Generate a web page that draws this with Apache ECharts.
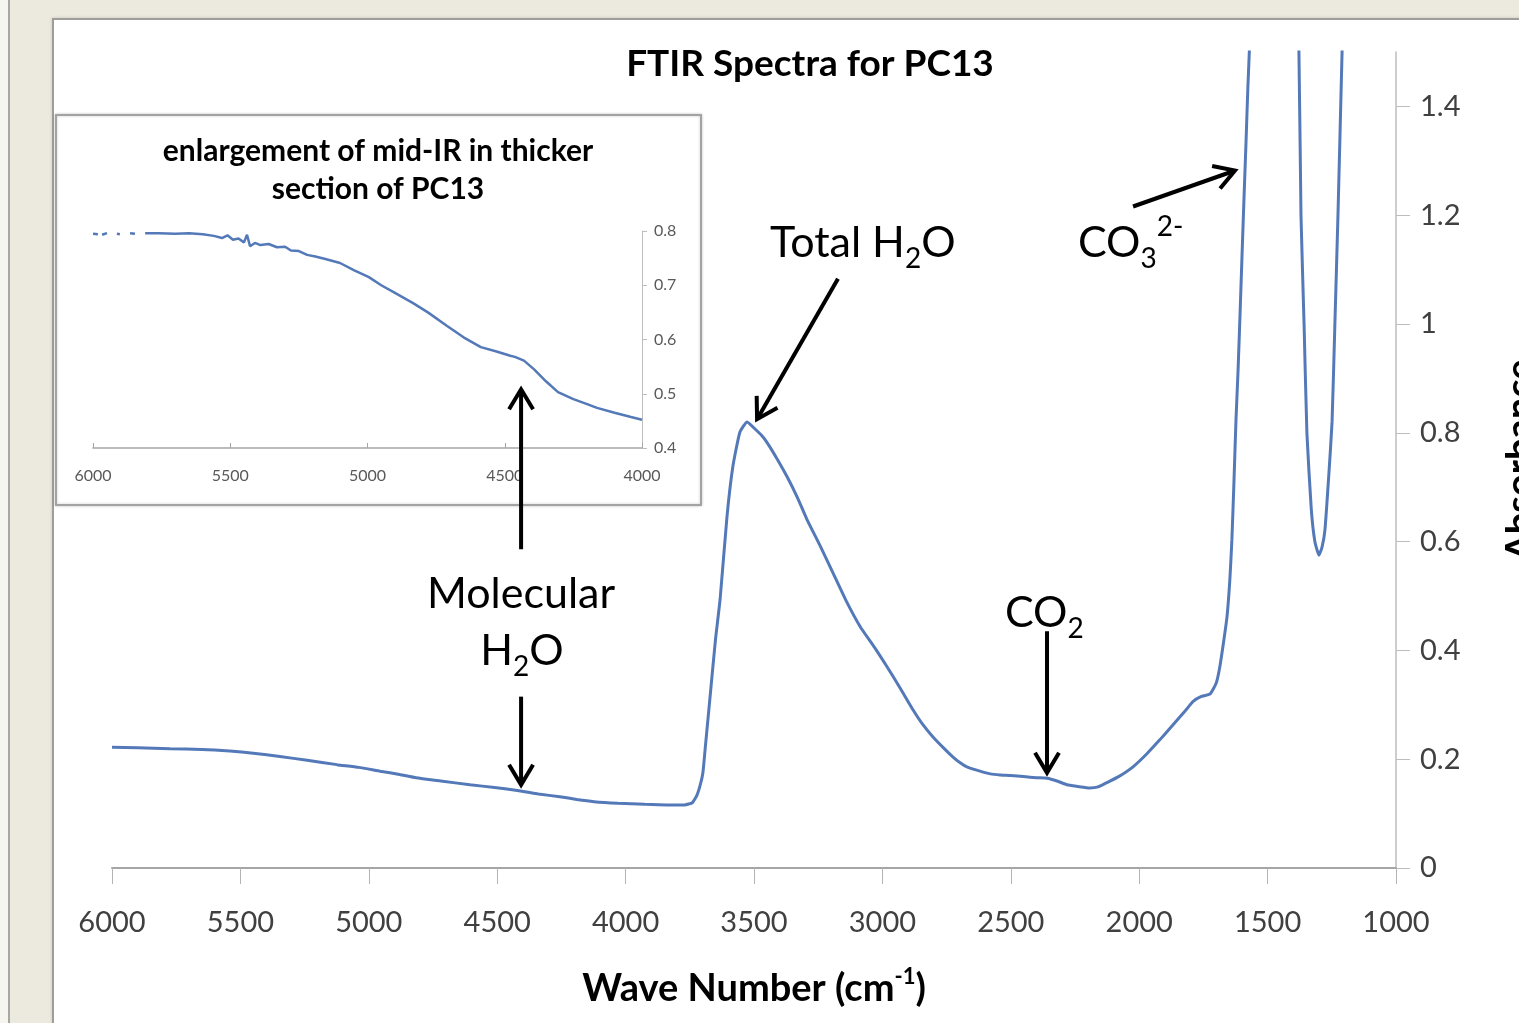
<!DOCTYPE html>
<html>
<head>
<meta charset="utf-8">
<script src="https://cdn.jsdelivr.net/npm/echarts@6/dist/echarts.min.js"></script>
<style>
  html, body { margin: 0; padding: 0; width: 1519px; height: 1023px; overflow: hidden; background: #ece9df; }
  #strip { position: absolute; left: 0; top: 0; width: 8px; height: 1023px; background: #f6f5f0; border-right: 2px solid #a8a7a1; }
  #frame { position: absolute; left: 52px; top: 18px; width: 1480px; height: 1020px; background: #fff; border: 2px solid #9e9d98; box-shadow: 0 0 3px #c9c7bf; }
  #chart { position: absolute; left: 0; top: 0; width: 1519px; height: 1023px; }
</style>
</head>
<body>
<div id="strip"></div>
<div id="frame"></div>
<div id="chart"></div>
<script>
// main spectrum, wave number (cm-1) and absorbance
var mainWave = [6000, 5900, 5774, 5650, 5541, 5450, 5346, 5240, 5124, 5040, 4956, 4880, 4816, 4720, 4606, 4510, 4415, 4340, 4256, 4190,
    4123, 4030, 3925, 3840, 3770, 3740, 3722, 3708, 3699, 3690, 3680, 3671, 3650, 3632, 3605, 3582, 3555, 3527, 3496, 3470,
    3449, 3410, 3372, 3330, 3294, 3240, 3193, 3140, 3087, 3030, 2982, 2930, 2881, 2840, 2803, 2760, 2725, 2690, 2671, 2620,
    2580, 2542, 2500, 2450, 2400, 2359, 2320, 2281, 2240, 2192, 2160, 2126, 2080, 2024, 1970, 1919, 1880, 1841, 1810, 1791,
    1760, 1724, 1700, 1686, 1670, 1658, 1647, 1639, 1631, 1623, 1615, 1608, 1600, 1592, 1584, 1577, 1561, 1540, 1500, 1460,
    1420, 1395, 1378, 1370, 1358, 1347, 1330, 1316, 1300, 1288, 1277, 1262, 1249, 1238, 1226, 1210, 1200];
var mainAbs = [0.222, 0.221, 0.219, 0.218, 0.215, 0.211, 0.205, 0.198, 0.190, 0.185, 0.178, 0.172, 0.166, 0.160, 0.153, 0.148, 0.142, 0.136, 0.131, 0.126,
    0.122, 0.119, 0.117, 0.116, 0.116, 0.120, 0.134, 0.155, 0.175, 0.220, 0.270, 0.315, 0.420, 0.494, 0.647, 0.739, 0.801, 0.820, 0.807, 0.795,
    0.782, 0.752, 0.720, 0.680, 0.641, 0.590, 0.543, 0.490, 0.444, 0.405, 0.370, 0.330, 0.291, 0.262, 0.241, 0.220, 0.204, 0.191, 0.186, 0.178,
    0.173, 0.171, 0.170, 0.168, 0.166, 0.165, 0.160, 0.153, 0.150, 0.147, 0.149, 0.157, 0.168, 0.186, 0.210, 0.236, 0.257, 0.278, 0.295, 0.306,
    0.315, 0.320, 0.340, 0.370, 0.420, 0.462, 0.530, 0.604, 0.710, 0.825, 0.915, 1.009, 1.120, 1.230, 1.335, 1.433, 1.62, 1.95, 2.45, 2.6,
    2.3, 1.75, 1.50, 1.20, 1.00, 0.80, 0.66, 0.60, 0.575, 0.59, 0.62, 0.72, 0.82, 1.00, 1.20, 1.50, 1.70];

// enlargement of mid-IR, thicker section (null = gap in the noisy start)
var insetWave = [6000, 5982, 5975, 5967, 5949, 5930, 5913, 5902, 5880, 5865, 5847, 5830, 5810, 5760, 5700, 5650, 5600, 5560, 5530, 5510,
    5490, 5470, 5450, 5439, 5428, 5410, 5390, 5360, 5330, 5300, 5279, 5250, 5220, 5190, 5150, 5100, 5050, 4995, 4950, 4900,
    4834, 4780, 4710, 4650, 4587, 4530, 4480, 4463, 4430, 4393, 4350, 4306, 4250, 4200, 4164, 4100, 4040, 4000];
var insetAbs = [0.795, 0.794, null, 0.793, 0.796, null, 0.795, 0.794, null, 0.796, 0.795, null, 0.796, 0.796, 0.795, 0.796, 0.794, 0.791, 0.787, 0.792,
    0.784, 0.786, 0.779, 0.793, 0.772, 0.778, 0.774, 0.776, 0.770, 0.771, 0.764, 0.763, 0.756, 0.753, 0.748, 0.741, 0.728, 0.715, 0.700, 0.686,
    0.667, 0.650, 0.625, 0.604, 0.586, 0.578, 0.570, 0.568, 0.561, 0.545, 0.523, 0.503, 0.490, 0.481, 0.474, 0.465, 0.457, 0.452];

var font = 'Lato';
var lineBlue = '#5479b8';

function pairs(xs, ys) {
    var out = [];
    for (var i = 0; i < xs.length; i++) out.push([xs[i], ys[i] == null ? '-' : ys[i]]);
    return out;
}

function plain(v) { return String(v); }

var chart = echarts.init(document.getElementById('chart'), null, {renderer: 'canvas'});

var option = {
    animation: false,
    backgroundColor: 'transparent',
    grid: [
        {left: 112, right: 123, top: 52, bottom: 155, containLabel: false, outerBoundsMode: 'none'},
        {left: 93, top: 231, width: 549, height: 217, containLabel: false, outerBoundsMode: 'none'}
    ],
    xAxis: [{
        type: 'value', gridIndex: 0, inverse: true,
        min: 1000, max: 6000, interval: 500,
        axisLine: {lineStyle: {color: '#a6a6a6', width: 2}},
        axisTick: {length: 16, lineStyle: {color: '#b4b4b4', width: 1}},
        splitLine: {show: false},
        axisLabel: {margin: 40, fontSize: 29, fontFamily: font, color: '#404040', formatter: plain},
        name: '{b|Wave Number (cm}{sup|-1}{b|)}',
        nameLocation: 'middle', nameGap: 98,
        nameTextStyle: {
            rich: {
                b: {fontSize: 38, fontWeight: 'bold', fontFamily: font, color: '#000', lineHeight: 46},
                sup: {fontSize: 22, fontWeight: 'bold', fontFamily: font, color: '#000', lineHeight: 28, verticalAlign: 'top'}
            }
        }
    }, {
        type: 'value', gridIndex: 1, inverse: true, z: 5,
        min: 4000, max: 6000, interval: 500,
        axisLine: {lineStyle: {color: '#a6a6a6', width: 1.5}},
        axisTick: {inside: true, length: 5, lineStyle: {color: '#a6a6a6'}},
        splitLine: {show: false},
        axisLabel: {margin: 20, fontSize: 16, fontFamily: font, color: '#595959', formatter: plain}
    }],
    yAxis: [{
        type: 'value', gridIndex: 0, position: 'right',
        min: 0, max: 1.5, interval: 0.2,
        axisLine: {show: true, lineStyle: {color: '#bdbdbd', width: 1.5}},
        axisTick: {show: true, length: 14, lineStyle: {color: '#bdbdbd'}},
        splitLine: {show: false},
        axisLabel: {margin: 24, fontSize: 29, fontFamily: font, color: '#404040', showMaxLabel: false},
        name: 'Absorbance', nameLocation: 'middle', nameGap: 106, nameRotate: 90,
        nameTextStyle: {fontSize: 38, fontWeight: 'bold', fontFamily: font, color: '#000'}
    }, {
        type: 'value', gridIndex: 1, position: 'right', z: 5,
        min: 0.4, max: 0.8, interval: 0.1,
        axisLine: {show: true, lineStyle: {color: '#bdbdbd', width: 1}},
        axisTick: {show: true, length: 5, lineStyle: {color: '#bdbdbd'}},
        splitLine: {show: false},
        axisLabel: {margin: 12, fontSize: 16, fontFamily: font, color: '#595959'}
    }],
    series: [{
        type: 'line', name: 'PC13', xAxisIndex: 0, yAxisIndex: 0,
        data: pairs(mainWave, mainAbs),
        showSymbol: false, clip: true, smooth: 0.15,
        lineStyle: {color: lineBlue, width: 3},
        z: 3
    }, {
        type: 'line', name: 'PC13 thick', xAxisIndex: 1, yAxisIndex: 1,
        data: pairs(insetWave, insetAbs),
        showSymbol: false, clip: true, connectNulls: false,
        lineStyle: {color: lineBlue, width: 2.5},
        z: 6
    }]
};
chart.setOption(option);

// annotations: arrows given in main-chart data coordinates [tail, tip]
var arrows = [
    [[3173, 1.083], [3488, 0.825]],   // Total H2O
    [[4407, 0.586], [4407, 0.880]],   // Molecular H2O, up into inset
    [[4407, 0.315], [4407, 0.153]],   // Molecular H2O, down
    [[2359, 0.435], [2359, 0.175]],   // CO2
    [[2024, 1.216], [1627, 1.282]]    // CO3 2-
];

function px(p) { return chart.convertToPixel({gridIndex: 0}, p); }

function arrowEls(a, b) {
    var dx = b[0] - a[0], dy = b[1] - a[1];
    var len = Math.sqrt(dx * dx + dy * dy), ux = dx / len, uy = dy / len;
    var h = 20, w = 12;
    var bx = b[0] - ux * h, by = b[1] - uy * h;
    return [{
        type: 'line', z: 50,
        shape: {x1: a[0], y1: a[1], x2: b[0] - ux * 2, y2: b[1] - uy * 2},
        style: {stroke: '#000', lineWidth: 4}
    }, {
        type: 'polyline', z: 50,
        shape: {points: [[bx - uy * w, by + ux * w], [b[0], b[1]], [bx + uy * w, by - ux * w]]},
        style: {stroke: '#000', fill: null, lineWidth: 4, lineJoin: 'miter'}
    }];
}

var richStyle = {
    m: {fontSize: 43, fontFamily: font, color: '#000', lineHeight: 60},
    s: {fontSize: 28, fontFamily: font, color: '#000', lineHeight: 29, verticalAlign: 'bottom'},
    u: {fontSize: 28, fontFamily: font, color: '#000', lineHeight: 38, verticalAlign: 'top'}
};

function label(text, x, y, align) {
    return {
        type: 'text', z: 50, x: x, y: y,
        style: {text: text, rich: richStyle, textAlign: align || 'left', textVerticalAlign: 'top'}
    };
}

var graphics = [
    {type: 'rect', z: 1, shape: {x: 56, y: 115, width: 645, height: 390},
     style: {fill: '#fff', stroke: '#a3a3a3', lineWidth: 2, shadowBlur: 3, shadowColor: 'rgba(0,0,0,0.2)'}},
    {type: 'text', z: 10, x: 810, y: 46,
     style: {text: 'FTIR Spectra for PC13', font: 'bold 37px Lato', fill: '#000', textAlign: 'center', textVerticalAlign: 'top'}},
    {type: 'text', z: 10, x: 378, y: 132,
     style: {text: 'enlargement of mid-IR in thicker\nsection of PC13', font: 'bold 30px Lato', lineHeight: 38,
             fill: '#000', textAlign: 'center', textVerticalAlign: 'top'}},
    label('{m|Total H}{s|2}{m|O}', 770, 213),
    label('{m|CO}{s|3}{u|2-}', 1078, 213),
    label('{m|Molecular}', 521, 564, 'center'),
    label('{m|H}{s|2}{m|O}', 522, 621, 'center'),
    label('{m|CO}{s|2}', 1005, 583)
];

arrows.forEach(function (ar) {
    graphics = graphics.concat(arrowEls(px(ar[0]), px(ar[1])));
});

chart.setOption({graphic: graphics});
</script>
</body>
</html>
